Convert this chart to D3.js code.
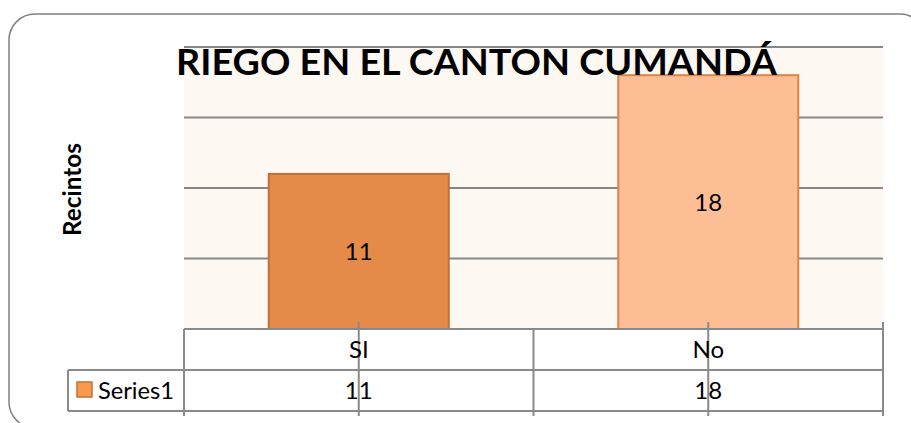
<!DOCTYPE html>
<html>
<head>
<meta charset="utf-8">
<script src="https://cdn.jsdelivr.net/npm/d3@7"></script>
<style>
  body { margin: 0; background: #fff; }
  text { font-family: Lato, "Open Sans", sans-serif; fill: #000; }
</style>
</head>
<body>
<div id="chart"></div>
<script>
// Data
const categories = ['SI', 'No']
const values = [11, 18]
const seriesName = 'Series1'
const yTicks = [0, 5, 10, 15, 20]
const title = 'RIEGO EN EL CANTON CUMANDÁ'
const yTitle = 'Recintos'

function draw(el) {
  // Dimensions
  let dimensions = {
    width: 911,
    height: 423,
    left: 184,
    right: 883,
    top: 47,
    bottom: 329,
  }
  const rowH = 41

  const svg = d3.select(el)
    .append('svg')
    .attr('width', dimensions.width)
    .attr('height', dimensions.height)

  // Frame
  svg.append('rect')
    .attr('x', 9)
    .attr('y', 14)
    .attr('width', 917)
    .attr('height', 414)
    .attr('rx', 26)
    .attr('fill', '#fff')
    .attr('stroke', '#808080')
    .attr('stroke-width', 1.5)

  // Scales
  const x = d3.scaleBand()
    .domain(categories)
    .range([dimensions.left, dimensions.right])
    .paddingInner(0.485)
    .paddingOuter(0.2425)

  const col = d3.scaleBand()
    .domain(categories)
    .range([dimensions.left, dimensions.right])

  const y = d3.scaleLinear()
    .domain([0, 20])
    .range([dimensions.bottom, dimensions.top])

  // Plot area
  svg.append('rect')
    .attr('x', dimensions.left)
    .attr('y', dimensions.top)
    .attr('width', dimensions.right - dimensions.left)
    .attr('height', dimensions.bottom - dimensions.top)
    .attr('fill', '#fdf8f2')

  // Gridlines
  svg.append('g')
    .attr('stroke', '#878787')
    .attr('stroke-width', 2)
    .selectAll('line')
    .data(yTicks.slice(1))
    .join('line')
    .attr('x1', dimensions.left)
    .attr('x2', dimensions.right)
    .attr('y1', d => y(d))
    .attr('y2', d => y(d))

  // Bars
  const fills = ['#e48b49', '#fdbe95']
  const strokes = ['#bf7038', '#e0843f']
  svg.append('g')
    .selectAll('rect')
    .data(values)
    .join('rect')
    .attr('x', (d, i) => x(categories[i]))
    .attr('y', d => y(d))
    .attr('width', x.bandwidth())
    .attr('height', d => y(0) - y(d))
    .attr('fill', (d, i) => fills[i])
    .attr('stroke', (d, i) => strokes[i])
    .attr('stroke-width', 2)

  // Data labels
  svg.append('g')
    .selectAll('text')
    .data(values)
    .join('text')
    .attr('x', (d, i) => x(categories[i]) + x.bandwidth() / 2)
    .attr('y', d => (y(d) + y(0)) / 2)
    .attr('dy', '0.36em')
    .attr('text-anchor', 'middle')
    .attr('font-size', 24)
    .text(d => d)

  // Data table
  const tableG = svg.append('g')
    .attr('stroke', '#8a8a8a')
    .attr('stroke-width', 2)
  const r1 = dimensions.bottom + rowH
  const r2 = r1 + rowH
  tableG.append('line')
    .attr('x1', dimensions.left).attr('x2', dimensions.right)
    .attr('y1', dimensions.bottom).attr('y2', dimensions.bottom)
  tableG.selectAll('.hrow')
    .data([r1, r2])
    .join('line')
    .attr('class', 'hrow')
    .attr('x1', 68).attr('x2', dimensions.right)
    .attr('y1', d => d).attr('y2', d => d)
  tableG.append('line')
    .attr('x1', 68).attr('x2', 68)
    .attr('y1', r1).attr('y2', r2)
  // column borders
  const borders = categories.map(c => col(c)).concat([dimensions.right])
  tableG.selectAll('.vcol')
    .data(borders)
    .join('line')
    .attr('class', 'vcol')
    .attr('x1', d => d).attr('x2', d => d)
    .attr('y1', (d, i) => i === borders.length - 1 ? dimensions.bottom - 7 : dimensions.bottom)
    .attr('y2', r2 + 5)
  // tick marks at category centres
  tableG.selectAll('.tick')
    .data(categories)
    .join('line')
    .attr('class', 'tick')
    .attr('x1', d => col(d) + col.bandwidth() / 2)
    .attr('x2', d => col(d) + col.bandwidth() / 2)
    .attr('y1', dimensions.bottom - 7)
    .attr('y2', r2 + 5)

  svg.append('g')
    .selectAll('text')
    .data(categories)
    .join('text')
    .attr('x', d => col(d) + col.bandwidth() / 2)
    .attr('y', dimensions.bottom + rowH / 2)
    .attr('dy', '0.36em')
    .attr('text-anchor', 'middle')
    .attr('font-size', 24)
    .text(d => d)

  svg.append('g')
    .selectAll('text')
    .data(values)
    .join('text')
    .attr('x', (d, i) => col(categories[i]) + col.bandwidth() / 2)
    .attr('y', r1 + rowH / 2)
    .attr('dy', '0.36em')
    .attr('text-anchor', 'middle')
    .attr('font-size', 24)
    .text(d => d)

  // Legend key
  svg.append('rect')
    .attr('x', 77)
    .attr('y', 382)
    .attr('width', 15)
    .attr('height', 15)
    .attr('fill', '#f79a4e')
    .attr('stroke', '#c0713a')
    .attr('stroke-width', 1.5)
  svg.append('text')
    .attr('x', 98)
    .attr('y', r1 + rowH / 2)
    .attr('dy', '0.36em')
    .attr('font-size', 24)
    .attr('textLength', 76)
    .attr('lengthAdjust', 'spacingAndGlyphs')
    .text(seriesName)

  // Titles
  svg.append('text')
    .attr('x', 176)
    .attr('y', 75)
    .attr('font-size', 37)
    .attr('font-weight', 'bold')
    .attr('textLength', 601)
    .attr('lengthAdjust', 'spacingAndGlyphs')
    .text(title)

  svg.append('text')
    .attr('transform', 'translate(81, 236) rotate(-90)')
    .attr('font-size', 24)
    .attr('font-weight', 'bold')
    .attr('textLength', 93)
    .attr('lengthAdjust', 'spacingAndGlyphs')
    .text(yTitle)
}

draw('#chart')
</script>
</body>
</html>
